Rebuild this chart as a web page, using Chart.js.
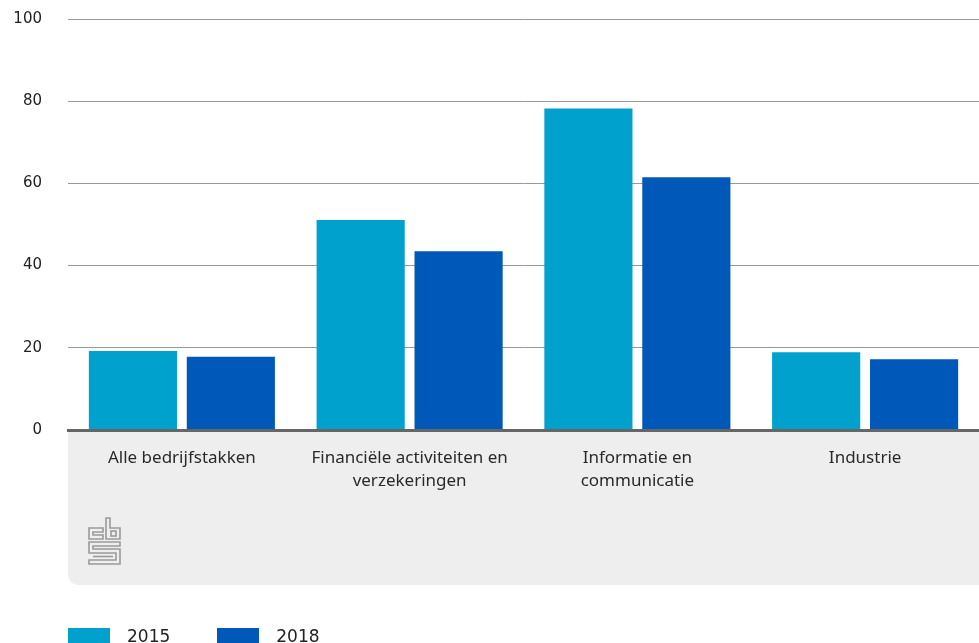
<!DOCTYPE html>
<html>
<head>
<meta charset="utf-8">
<script src="https://cdn.jsdelivr.net/npm/chart.js@4"></script>
<style>
  html, body { margin: 0; padding: 0; background: #fff; overflow: hidden; }
  #wrap { position: relative; width: 979px; height: 643px; overflow: hidden; }
  #myChart { position: absolute; left: 0; top: -16px; }
  #legend { position: absolute; left: 68px; top: 626px; font-family: "DejaVu Sans", sans-serif; font-size: 17px; color: #222; white-space: nowrap; }
  #legend span.box { display: inline-block; width: 42px; height: 17px; vertical-align: top; margin-top: 2px; }
  #legend span.txt { display: inline-block; margin-left: 17px; margin-right: 47px; line-height: 20px; }
</style>
</head>
<body>
<div id="wrap">
  <canvas id="myChart" width="979" height="659"></canvas>
  <div id="legend"></div>
</div>
<script>
// categorieën
const categories = [
  'Alle bedrijfstakken',
  ['Financiële activiteiten en', 'verzekeringen'],
  ['Informatie en', 'communicatie'],
  'Industrie'
];
// reeksen
const seriesNames = ['2015', '2018'];
const values2015 = [19.2, 51.1, 78.2, 18.9];
const values2018 = [17.8, 43.5, 61.5, 17.2];
const colors = ['#00a1cd', '#0058b8'];
// y-as
const yTicks = [0, 20, 40, 60, 80, 100];

// grijze vlak onder de x-as + cbs logo
const panelPlugin = {
  id: 'panel',
  beforeDraw(chart) {
    const ctx = chart.ctx;
    const a = chart.chartArea;
    const top = a.bottom;
    const bottom = a.bottom + 155;
    const left = a.left;
    const right = chart.width;
    const r = 12;
    ctx.save();
    ctx.fillStyle = '#eeeeee';
    ctx.beginPath();
    ctx.moveTo(left, top);
    ctx.lineTo(right, top);
    ctx.lineTo(right, bottom);
    ctx.lineTo(left + r, bottom);
    ctx.quadraticCurveTo(left, bottom, left, bottom - r);
    ctx.closePath();
    ctx.fill();

    // logo
    const x0 = left + 21, y0 = top + 88;
    ctx.strokeStyle = '#9a9a9a';
    ctx.lineWidth = 1.6;
    // c
    ctx.beginPath();
    ctx.moveTo(x0 + 14, y0 + 10); ctx.lineTo(x0, y0 + 10); ctx.lineTo(x0, y0 + 21);
    ctx.lineTo(x0 + 14, y0 + 21); ctx.lineTo(x0 + 14, y0 + 17); ctx.lineTo(x0 + 4, y0 + 17);
    ctx.lineTo(x0 + 4, y0 + 14); ctx.lineTo(x0 + 14, y0 + 14);
    ctx.closePath();
    ctx.stroke();
    // b
    ctx.beginPath();
    ctx.moveTo(x0 + 17, y0); ctx.lineTo(x0 + 21, y0); ctx.lineTo(x0 + 21, y0 + 10);
    ctx.lineTo(x0 + 31, y0 + 10); ctx.lineTo(x0 + 31, y0 + 21); ctx.lineTo(x0 + 17, y0 + 21);
    ctx.closePath();
    ctx.stroke();
    ctx.strokeRect(x0 + 22, y0 + 13, 5, 5);
    // S
    ctx.beginPath();
    ctx.moveTo(x0, y0 + 24); ctx.lineTo(x0 + 31, y0 + 24); ctx.lineTo(x0 + 31, y0 + 28);
    ctx.lineTo(x0 + 4, y0 + 28); ctx.lineTo(x0 + 4, y0 + 31); ctx.lineTo(x0 + 31, y0 + 31);
    ctx.lineTo(x0 + 31, y0 + 46); ctx.lineTo(x0, y0 + 46); ctx.lineTo(x0, y0 + 42);
    ctx.lineTo(x0 + 27, y0 + 42); ctx.lineTo(x0 + 27, y0 + 35); ctx.lineTo(x0, y0 + 35);
    ctx.closePath();
    ctx.stroke();
    ctx.beginPath();
    ctx.moveTo(x0 + 4, y0 + 38.5); ctx.lineTo(x0 + 24, y0 + 38.5);
    ctx.stroke();
    ctx.restore();
  }
};

const ctx = document.getElementById('myChart').getContext('2d');
const myChart = new Chart(ctx, {
  type: 'bar',
  data: {
    labels: categories,
    datasets: [
      { label: seriesNames[0], data: values2015, backgroundColor: colors[0] },
      { label: seriesNames[1], data: values2018, backgroundColor: colors[1] }
    ]
  },
  plugins: [panelPlugin],
  options: {
    responsive: false,
    animation: false,
    categoryPercentage: 0.86,
    barPercentage: 0.9,
    layout: { padding: { top: 0, right: 0, bottom: 58, left: 0 } },
    plugins: {
      legend: { display: false },
      tooltip: { enabled: false }
    },
    scales: {
      x: {
        grid: { display: false },
        border: { display: true, color: '#666666', width: 3, z: 1 },
        ticks: {
          color: '#2a2a2a',
          font: { family: 'Noto Sans', size: 17, lineHeight: 1.35 },
          padding: 9,
          maxRotation: 0,
          autoSkip: false
        },
        afterFit(scale) { scale.height = 155; }
      },
      y: {
        min: 0,
        max: 100,
        afterBuildTicks(scale) { scale.ticks = yTicks.map(v => ({ value: v })); },
        grid: {
          color: ctx => ctx.tick && ctx.tick.value === 0 ? 'rgba(0,0,0,0)' : '#999999',
          lineWidth: 1,
          drawTicks: false
        },
        border: { display: false },
        ticks: {
          color: '#222222',
          font: { family: 'DejaVu Sans', size: 15 },
          padding: 26
        },
        afterFit(scale) { scale.width = 68; }
      }
    }
  }
});

// legenda
const legend = document.getElementById('legend');
seriesNames.forEach((name, i) => {
  legend.innerHTML += `<span class="box" style="background:${colors[i]}"></span><span class="txt">${name}</span>`;
});
</script>
</body>
</html>
